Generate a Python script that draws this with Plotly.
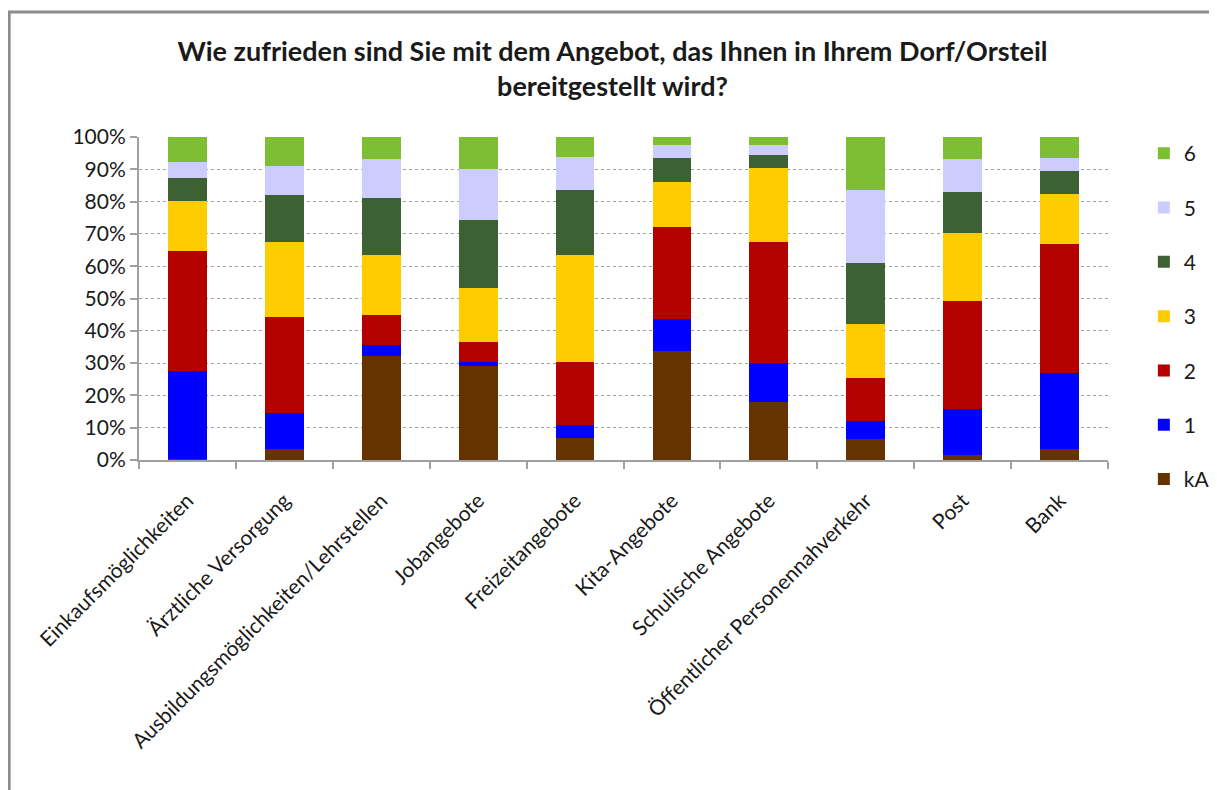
import plotly.graph_objects as go

categories = [
    "Einkaufsmöglichkeiten",
    "Ärztliche Versorgung",
    "Ausbildungsmöglichkeiten/Lehrstellen",
    "Jobangebote",
    "Freizeitangebote",
    "Kita-Angebote",
    "Schulische Angebote",
    "Öffentlicher Personennahverkehr",
    "Post",
    "Bank",
]

# shares in percent, per answer category
kA = [0.4, 3.3, 32.3, 29.1, 6.7, 33.8, 17.9, 6.4, 1.7, 3.3]
s1 = [27.1, 11.2, 3.2, 1.1, 4.1, 9.9, 12.0, 5.6, 14.2, 23.5]
s2 = [37.3, 29.7, 9.5, 6.4, 19.5, 28.3, 37.7, 13.4, 33.4, 40.1]
s3 = [15.5, 23.4, 18.6, 16.8, 33.3, 14.2, 22.7, 16.8, 21.0, 15.4]
s4 = [7.1, 14.4, 17.6, 21.0, 19.9, 7.3, 4.0, 18.7, 12.8, 7.3]
s5 = [4.8, 9.2, 11.9, 15.6, 10.4, 3.9, 3.1, 22.7, 10.0, 3.9]
s6 = [7.8, 8.9, 6.9, 10.0, 6.1, 2.6, 2.6, 16.4, 6.9, 6.5]

series = [
    ("kA", kA, "#663300"),
    ("1", s1, "#0000FF"),
    ("2", s2, "#B50000"),
    ("3", s3, "#FFCC00"),
    ("4", s4, "#3D6133"),
    ("5", s5, "#CCCCFF"),
    ("6", s6, "#7DBE33"),
]

fig = go.Figure()

# stacked from bottom (kA) to top (6); legend shows 6 first
for i, (name, vals, color) in enumerate(series):
    fig.add_trace(
        go.Bar(
            x=categories,
            y=vals,
            name=name,
            legendgroup=name,
            legendrank=len(series) - i,
            marker=dict(color=color, line=dict(width=0)),
        )
    )

fig.update_layout(
    barmode="stack",
    barnorm="percent",
    bargap=0.6,
    width=1209,
    height=782,
    margin=dict(l=131, r=109, t=129, b=330, autoexpand=False),
    paper_bgcolor="white",
    plot_bgcolor="white",
    font=dict(family="Lato, Noto Sans, sans-serif", size=21, color="#1a1a1a"),
    title=dict(
        text="<b>Wie zufrieden sind Sie mit dem Angebot, das Ihnen in Ihrem Dorf/Orsteil<br>bereitgestellt wird?</b>",
        x=0.5,
        xanchor="center",
        y=0.932,
        yanchor="middle",
        font=dict(size=27),
    ),
    legend=dict(
        x=1.037,
        y=1.012,
        xanchor="left",
        yanchor="top",
        traceorder="grouped",
        tracegroupgap=24,
        font=dict(size=21),
        itemwidth=30,
    ),
    xaxis=dict(
        tickangle=-45,
        showline=True,
        linecolor="#A0A0A0",
        linewidth=2,
        ticks="outside",
        tickson="boundaries",
        ticklen=7,
        tickcolor="#A0A0A0",
        tickwidth=2,
        showgrid=False,
        ticklabelstandoff=18,
        tickfont=dict(size=21),
    ),
    yaxis=dict(
        range=[0, 100],
        dtick=10,
        ticksuffix="%",
        showline=True,
        linecolor="#A0A0A0",
        linewidth=2,
        ticks="outside",
        ticklen=7,
        tickcolor="#A0A0A0",
        tickwidth=2,
        showgrid=True,
        gridcolor="#A0A0A0",
        griddash="dot",
        gridwidth=1,
        tickfont=dict(size=21),
    ),
    shapes=[
        dict(
            type="rect",
            xref="paper",
            yref="paper",
            x0=-0.134,
            x1=1.2,
            y0=-1.05,
            y1=1.387,
            line=dict(color="#8C8C8C", width=3),
            fillcolor="rgba(0,0,0,0)",
            layer="below",
        )
    ],
)

fig.write_html("out.html")
